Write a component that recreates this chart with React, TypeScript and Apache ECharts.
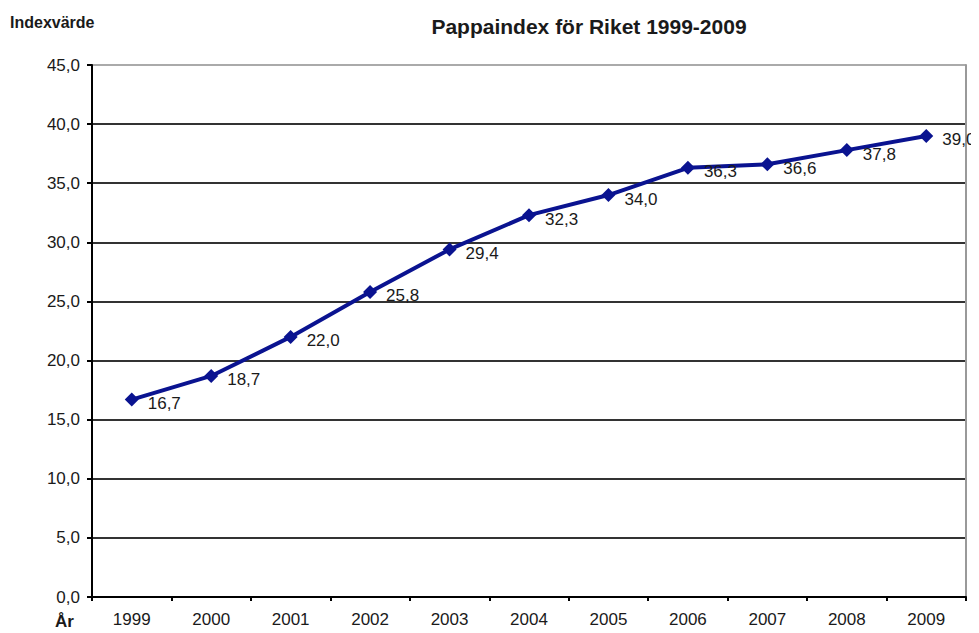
import React, { useEffect, useRef } from "react";
import * as echarts from "echarts";

const years = ["1999", "2000", "2001", "2002", "2003", "2004", "2005", "2006", "2007", "2008", "2009"];
const values = [16.7, 18.7, 22.0, 25.8, 29.4, 32.3, 34.0, 36.3, 36.6, 37.8, 39.0];
const title = "Pappaindex för Riket 1999-2009";
const yAxisName = "Indexvärde";
const xAxisName = "År";

const fmt = (v: number) => v.toFixed(1).replace(".", ",");

export default function App() {
  const ref = useRef<HTMLDivElement>(null);
  useEffect(() => {
    if (!ref.current) return;
    document.documentElement.style.overflow = "hidden";
    document.body.style.overflow = "hidden";
    const chart = echarts.init(ref.current, null, { renderer: "svg" });
    const font = "'Liberation Sans', Arial, sans-serif";
    // div is offset by the 8px body margin; grid in div coords
    const gLeft = 84, gTop = 57, gRight = 13, gBottom = 36;
    chart.setOption({
      animation: false,
      textStyle: { fontFamily: font },
      title: {
        text: title,
        left: 576,
        top: 3,
        textAlign: "center",
        textStyle: { fontSize: 21, fontWeight: "bold", color: "#1a1a1a", fontFamily: font },
      },
      graphic: [
        {
          type: "text",
          left: 2,
          top: 6,
          style: { text: yAxisName, font: `bold 16px ${font}`, fill: "#1a1a1a" },
        },
        {
          type: "text",
          left: 47,
          top: 605,
          style: { text: xAxisName, font: `bold 17px ${font}`, fill: "#1a1a1a" },
        },
      ],
      grid: { left: gLeft, right: gRight, top: gTop, bottom: gBottom, containLabel: false },
      xAxis: {
        type: "category",
        data: years,
        boundaryGap: true,
        axisLine: { show: true, lineStyle: { color: "#000", width: 2 } },
        axisTick: { show: true, inside: false, length: 4, lineStyle: { color: "#000", width: 2 } },
        axisLabel: { color: "#1a1a1a", fontSize: 17, margin: 14, fontFamily: font },
        splitLine: { show: false },
      },
      yAxis: [
        {
          type: "value",
          min: 0,
          max: 45,
          interval: 5,
          axisLine: { show: true, lineStyle: { color: "#000", width: 2 } },
          axisTick: { show: true, length: 5, lineStyle: { color: "#000", width: 2 } },
          axisLabel: { color: "#1a1a1a", fontSize: 17, margin: 12, fontFamily: font, formatter: (v: number) => fmt(v) },
          splitLine: {
            show: true,
            lineStyle: { color: ["#333", "#333", "#333", "#333", "#333", "#333", "#333", "#333", "#333", "#aaa"], width: 2 },
          },
        },
        {
          type: "value",
          position: "right",
          min: 0,
          max: 45,
          interval: 5,
          axisLine: { show: true, lineStyle: { color: "#999", width: 2 } },
          axisTick: { show: false },
          axisLabel: { show: false },
          splitLine: { show: false },
        },
      ],
      series: [
        {
          type: "line",
          data: values,
          symbol: "diamond",
          symbolSize: 14,
          lineStyle: { color: "#0a1390", width: 4 },
          itemStyle: { color: "#0a1390" },
          label: {
            show: true,
            position: "right",
            distance: 9,
            offset: [0, 4],
            color: "#1a1a1a",
            fontSize: 17,
            fontFamily: font,
            formatter: (p: any) => fmt(p.value),
          },
        },
      ],
    });
    return () => chart.dispose();
  }, []);
  return <div ref={ref} style={{ width: 971, height: 625 }} />;
}
